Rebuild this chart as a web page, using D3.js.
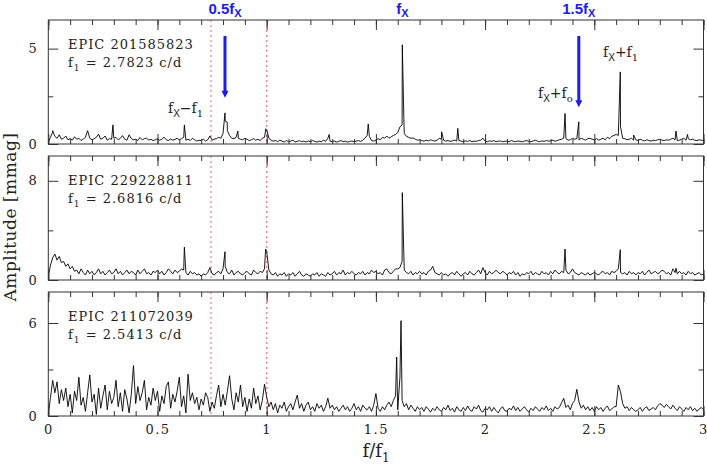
<!DOCTYPE html>
<html>
<head>
<meta charset="utf-8">
<script src="https://cdn.jsdelivr.net/npm/d3@7"></script>
<style>
  body { margin: 0; background: #fff; }
  svg { font-family: "DejaVu Serif", serif; }
</style>
</head>
<body>
<script>
// amplitude spectra, f/f1 from 0 to 3 in steps of 0.01 (mmag)
var fStart = 0, fStep = 0.01;

var amp1 = [
  0.10,0.35,0.62,0.40,0.30,0.48,0.25,0.30,0.42,0.22,
  0.28,0.20,0.38,0.25,0.30,0.18,0.26,0.35,0.70,0.30,
  0.22,0.28,0.35,0.52,0.25,0.30,0.42,0.20,0.28,0.25,
  0.30,0.35,0.22,0.30,0.44,0.25,0.20,0.48,0.28,0.22,
  0.25,0.18,0.34,0.22,0.28,0.30,0.20,0.25,0.18,0.22,
  0.28,0.20,0.25,0.36,0.22,0.18,0.26,0.20,0.24,0.30,
  0.22,0.28,0.35,0.20,0.25,0.18,0.30,0.22,0.15,0.20,
  0.18,0.25,0.15,0.22,0.42,0.20,0.25,0.28,0.35,0.30,
  0.55,1.20,0.70,0.45,0.30,0.28,0.35,0.30,0.25,0.22,
  0.30,0.25,0.18,0.22,0.28,0.20,0.25,0.18,0.30,0.35,
  0.75,0.30,0.20,0.15,0.18,0.12,0.20,0.15,0.10,0.18,
  0.12,0.15,0.20,0.10,0.14,0.18,0.12,0.15,0.10,0.16,
  0.12,0.18,0.14,0.10,0.15,0.12,0.20,0.14,0.30,0.15,
  0.12,0.16,0.10,0.14,0.18,0.12,0.15,0.10,0.13,0.16,
  0.12,0.15,0.18,0.14,0.20,0.30,0.45,0.40,0.18,0.15,
  0.20,0.28,0.22,0.35,0.30,0.42,0.30,0.38,0.45,0.50,
  0.60,0.90,1.00,0.55,0.40,0.35,0.30,0.32,0.25,0.20,
  0.22,0.18,0.15,0.20,0.16,0.22,0.18,0.15,0.20,0.30,
  0.25,0.20,0.15,0.18,0.14,0.16,0.20,0.15,0.18,0.15,
  0.12,0.16,0.14,0.18,0.12,0.15,0.14,0.18,0.20,0.30,
  0.15,0.12,0.16,0.14,0.18,0.12,0.15,0.16,0.12,0.14,
  0.15,0.12,0.18,0.14,0.12,0.16,0.14,0.12,0.15,0.18,
  0.14,0.12,0.16,0.20,0.15,0.12,0.16,0.14,0.18,0.15,
  0.16,0.20,0.14,0.18,0.22,0.25,0.30,0.28,0.20,0.22,
  0.30,0.25,0.28,0.22,0.30,0.25,0.20,0.28,0.30,0.25,
  0.22,0.28,0.20,0.25,0.30,0.22,0.35,0.28,0.40,0.45,
  0.50,0.45,0.90,0.30,0.28,0.22,0.25,0.30,0.20,0.22,
  0.18,0.25,0.20,0.16,0.22,0.18,0.15,0.20,0.18,0.22,
  0.25,0.20,0.18,0.22,0.20,0.25,0.30,0.22,0.18,0.20,
  0.25,0.30,0.20,0.28,0.22,0.25,0.20,0.18,0.22,0.20,
  0.18
];
// narrow peaks between grid points [f/f1, amplitude]
var peaks1 = [[0.020,0.70],[0.296,1.00],[0.623,1.00],[0.809,1.63],[0.819,1.15],
  [0.868,0.68],[0.996,0.80],[1.286,0.50],[1.465,1.05],[1.621,5.20],[1.628,1.34],
  [1.801,0.64],[1.875,0.82],[2.366,1.60],[2.429,1.16],[2.619,3.78],[2.680,0.47],
  [2.874,0.68],[2.927,0.50]];

var amp2 = [
  0.30,1.20,1.80,2.10,1.60,1.90,1.40,1.50,1.10,1.30,
  0.90,1.10,0.70,0.80,0.50,0.90,0.60,0.40,0.80,0.50,
  0.70,0.40,0.60,0.90,0.50,0.70,0.40,0.60,0.80,0.50,
  0.60,0.90,0.50,0.70,0.40,0.60,0.80,0.50,0.70,0.60,
  0.40,0.80,0.50,0.70,0.90,0.50,0.60,0.40,0.70,0.60,
  0.80,0.50,0.70,0.40,0.60,0.90,0.70,0.50,0.80,0.60,
  0.70,0.90,0.80,0.60,0.40,0.70,0.50,0.60,0.40,0.50,
  0.30,0.50,0.40,0.60,1.00,0.50,0.40,0.60,0.70,0.50,
  0.90,1.10,0.60,0.50,0.80,0.40,0.60,0.70,0.50,0.40,
  0.60,0.70,0.50,0.40,0.80,0.60,0.50,0.70,0.60,0.90,
  2.30,0.80,0.50,0.40,0.60,0.30,0.50,0.40,0.60,0.30,
  0.50,0.40,0.60,0.30,0.50,0.70,0.40,0.30,0.50,0.40,
  0.30,0.50,0.40,0.60,0.30,0.50,0.40,0.30,0.60,0.40,
  0.50,0.70,0.40,0.60,0.50,0.80,0.40,0.60,0.50,0.70,
  0.50,0.40,0.60,0.50,0.70,0.40,0.60,0.50,0.80,0.60,
  0.70,0.50,0.60,0.40,0.80,0.90,0.60,0.50,0.70,0.90,
  0.90,1.00,1.50,0.80,0.60,0.50,0.70,0.40,0.60,0.50,
  0.70,0.50,0.60,0.40,0.70,0.80,1.10,0.60,0.50,0.40,
  0.60,0.40,0.50,0.30,0.50,0.60,0.40,0.70,0.50,0.30,
  0.50,0.60,0.40,0.70,0.50,0.40,0.60,0.80,0.50,1.00,
  0.60,0.40,0.70,0.50,0.60,0.80,0.60,0.50,0.70,0.60,
  0.40,0.60,0.50,0.70,0.40,0.60,0.30,0.50,0.40,0.60,
  0.50,0.70,0.40,0.60,0.50,0.40,0.70,0.50,0.60,0.40,
  0.70,0.50,0.80,0.60,0.50,0.70,0.60,0.80,0.50,0.60,
  0.90,0.60,0.50,0.40,0.60,0.50,0.40,0.60,0.40,0.50,
  0.60,0.50,0.40,0.60,0.70,0.50,0.60,0.40,0.70,0.60,
  0.70,0.90,0.60,0.50,0.60,0.40,0.70,0.50,0.60,0.40,
  0.60,0.50,0.70,0.40,0.60,0.80,0.50,0.60,0.70,0.50,
  0.60,0.80,0.70,0.50,0.60,0.40,0.90,0.60,0.50,0.70,
  0.50,0.60,0.40,0.70,0.50,0.60,0.40,0.50,0.60,0.40,
  0.50
];
var peaks2 = [[0.623,2.65],[0.809,2.28],[0.995,2.50],[1.621,7.05],[1.628,1.95],
  [2.366,2.50],[2.619,2.44],[2.874,0.95]];

var amp3 = [
  0.10,1.20,2.30,1.50,2.20,0.80,1.70,1.00,1.80,0.60,
  1.40,0.20,1.60,1.00,2.50,0.70,1.20,0.30,1.50,2.65,
  0.90,1.40,0.10,1.80,0.50,1.30,2.00,0.40,1.60,0.80,
  1.20,2.30,0.60,1.50,0.30,1.70,1.10,0.20,1.40,3.25,
  0.80,1.90,1.00,1.50,2.30,0.40,1.20,0.70,1.80,1.00,
  1.60,0.30,1.30,0.80,1.90,2.20,0.50,1.40,0.90,1.60,
  2.50,0.60,1.30,0.20,2.70,1.00,1.50,0.80,1.20,0.40,
  1.10,0.70,1.50,1.20,0.30,0.90,0.50,1.30,2.00,0.60,
  1.40,0.70,1.60,2.60,1.10,0.40,1.50,0.90,2.00,0.60,
  1.20,0.30,1.10,0.50,1.80,0.80,1.30,0.40,1.00,2.05,
  1.20,0.60,0.90,0.40,0.80,0.20,0.70,0.50,0.90,0.30,
  0.60,0.80,0.40,0.90,1.35,0.50,0.80,0.30,0.70,0.90,
  0.40,0.60,0.30,0.80,0.50,0.70,0.30,0.60,1.15,0.50,
  0.70,0.40,0.60,0.30,0.50,0.70,0.40,0.60,0.30,0.50,
  0.80,0.40,0.60,0.30,0.70,0.50,0.40,0.60,0.30,0.70,
  1.45,0.50,0.30,0.60,0.40,0.70,0.90,0.60,1.00,1.30,
  0.40,2.50,1.00,0.60,0.80,0.40,0.70,0.50,0.30,0.60,
  0.40,0.55,0.30,0.60,0.45,0.25,0.50,0.35,0.60,0.40,
  0.30,0.55,0.40,0.70,0.35,0.50,0.25,0.60,0.40,0.30,
  0.55,0.35,0.65,0.40,0.30,0.60,0.45,0.70,0.35,0.25,
  0.50,0.40,0.60,0.30,0.55,0.35,0.20,0.45,0.60,0.35,
  0.30,0.50,0.40,0.65,0.35,0.55,0.30,0.45,0.60,0.40,
  0.25,0.50,0.35,0.60,0.45,0.30,0.55,0.40,0.65,0.35,
  0.50,0.30,0.60,0.45,0.55,0.85,1.14,0.55,0.70,0.40,
  0.80,1.00,1.72,0.90,0.50,0.70,0.40,0.60,0.35,0.55,
  0.30,0.60,0.40,0.55,0.30,0.50,0.65,0.35,0.45,0.60,
  0.60,2.00,1.56,0.80,0.50,0.60,0.35,0.55,0.40,0.30,
  0.40,0.55,0.30,0.50,0.60,0.35,0.45,0.55,0.40,0.65,
  0.80,0.70,0.55,0.75,0.60,0.45,0.70,0.50,0.35,0.60,
  0.45,0.30,0.55,0.40,0.60,0.35,0.50,0.30,0.45,0.55,
  0.40
];
var peaks3 = [[1.595,3.80],[1.615,6.15]];

var starNames = ['EPIC 201585823', 'EPIC 229228811', 'EPIC 211072039'];
var f1Values = ['2.7823', '2.6816', '2.5413'];
var yMax = [6.5, 10, 8];
var yMajor = [5, 8, 6];
var xMajor = [0, 0.5, 1, 1.5, 2, 2.5, 3];
var xLabels = ['0', '0.5', '1', '1.5', '2', '2.5', '3'];
var redLines = [0.745, 1.0];
// blue markers in the top panel: f/f1, label
var blueF = [0.809, 1.621, 2.429];
var blueText = ['0.5f', 'f', '1.5f'];
var arrowF = [0.809, 2.429];
var arrowTip = [2.43, 1.92];   // amplitude where the arrow ends

var W = 707, H = 467;
var panelTop = [20, 156, 292], panelH = 124;
var sans = '"Liberation Sans", Arial, sans-serif';

var svg = d3.select('body').append('svg').attr('width', W).attr('height', H);
var x = d3.scaleLinear().domain([0, 3]).range([48.3, 703.5]);
var xMinor = d3.range(0, 30.5, 1).map(function (d) { return d / 10; });

var ampAll = [amp1, amp2, amp3], peakAll = [peaks1, peaks2, peaks3];

function series(amp, pk) {
  var pts = amp.map(function (a, i) { return [fStart + i * fStep, a]; });
  return pts.concat(pk).sort(function (a, b) { return a[0] - b[0]; });
}

function noDomain(g) { g.select('.domain').remove(); }

var yScales = [];
ampAll.forEach(function (amp, i) {
  var g = svg.append('g').attr('transform', 'translate(0,' + panelTop[i] + ')');
  var y = d3.scaleLinear().domain([0, yMax[i]]).range([panelH, 0]);
  yScales.push(y);

  // dotted red markers
  g.selectAll('line.red').data(redLines).enter().append('line')
    .attr('class', 'red')
    .attr('x1', function (d) { return x(d); }).attr('x2', function (d) { return x(d); })
    .attr('y1', 0).attr('y2', panelH)
    .attr('stroke', '#ff5a5a').attr('stroke-width', 1).attr('stroke-dasharray', '2,3');

  var line = d3.line().x(function (d) { return x(d[0]); }).y(function (d) { return y(d[1]); });
  g.append('path').datum(series(amp, peakAll[i]))
    .attr('d', line).attr('fill', 'none')
    .attr('stroke', '#000').attr('stroke-width', 0.9).attr('stroke-linejoin', 'round');

  // ticks on all four sides, pointing inward
  g.append('g').call(d3.axisTop(x).tickValues(xMajor).tickSize(-10).tickFormat('')).call(noDomain);
  g.append('g').call(d3.axisTop(x).tickValues(xMinor).tickSize(-5).tickFormat('')).call(noDomain);
  var bot = g.append('g').attr('transform', 'translate(0,' + panelH + ')');
  bot.call(d3.axisBottom(x).tickValues(xMajor).tickSize(-10).tickPadding(9)
      .tickFormat(function (d, k) { return i === 2 ? xLabels[k] : ''; })).call(noDomain);
  g.append('g').attr('transform', 'translate(0,' + panelH + ')')
    .call(d3.axisBottom(x).tickValues(xMinor).tickSize(-5).tickFormat('')).call(noDomain);

  g.append('g').attr('transform', 'translate(' + x(0) + ',0)')
    .call(d3.axisLeft(y).tickValues([0, yMajor[i]]).tickSize(-10).tickPadding(10)
      .tickFormat(d3.format('d'))).call(noDomain);
  g.append('g').attr('transform', 'translate(' + x(0) + ',0)')
    .call(d3.axisLeft(y).tickValues([yMajor[i] / 2]).tickSize(-5).tickFormat('')).call(noDomain);
  g.append('g').attr('transform', 'translate(' + x(3) + ',0)')
    .call(d3.axisRight(y).tickValues([0, yMajor[i]]).tickSize(-10).tickFormat('')).call(noDomain);
  g.append('g').attr('transform', 'translate(' + x(3) + ',0)')
    .call(d3.axisRight(y).tickValues([yMajor[i] / 2]).tickSize(-5).tickFormat('')).call(noDomain);

  g.selectAll('.tick line').attr('stroke', '#333');
  g.selectAll('.tick text').attr('font-family', '"DejaVu Serif", serif')
    .attr('font-size', 13).attr('letter-spacing', 1.5).attr('fill', '#222');

  g.append('rect').attr('x', x(0)).attr('y', 0)
    .attr('width', x(3) - x(0)).attr('height', panelH)
    .attr('fill', 'none').attr('stroke', '#333').attr('stroke-width', 1);

  // star name and f1
  g.append('text').attr('x', 68).attr('y', 28.5)
    .attr('font-size', 13).attr('letter-spacing', 1).attr('fill', '#222')
    .text(starNames[i]);
  var t = g.append('text').attr('x', 68).attr('y', 47)
    .attr('font-size', 13).attr('letter-spacing', 1).attr('fill', '#222');
  t.append('tspan').text('f');
  t.append('tspan').attr('dy', 4).attr('font-size', 9).text('1');
  t.append('tspan').attr('dy', -4).text(' = ' + f1Values[i] + ' c/d');
});

// combination labels in top panel
var y1 = yScales[0];
var combo = [
  { f: 0.548, a: 1.62, op: '\u2212', s: '1' },
  { f: 2.242, a: 2.41, op: '+', s: 'o' },
  { f: 2.540, a: 4.56, op: '+', s: '1' }
];
combo.forEach(function (c) {
  var t = svg.append('text').attr('x', x(c.f)).attr('y', panelTop[0] + y1(c.a))
    .attr('font-size', 14).attr('fill', '#222');
  t.append('tspan').text('f');
  t.append('tspan').attr('dy', 4).attr('font-size', 10).style('font-family', sans).text('X');
  t.append('tspan').attr('dy', -4).text(c.op + 'f');
  t.append('tspan').attr('dy', 4).attr('font-size', 10).text(c.s);
});

// blue arrows
arrowF.forEach(function (f, k) {
  var xa = x(f), yt = panelTop[0] + y1(arrowTip[k]);
  svg.append('line').attr('x1', xa).attr('x2', xa)
    .attr('y1', panelTop[0] + y1(5.66)).attr('y2', yt - 5)
    .attr('stroke', '#1a1aff').attr('stroke-width', 3);
  svg.append('path')
    .attr('d', 'M' + (xa - 3.5) + ',' + (yt - 7) + 'L' + (xa + 3.5) + ',' + (yt - 7) + 'L' + xa + ',' + yt + 'Z')
    .attr('fill', '#1a1aff');
});

// blue labels above the top panel
blueF.forEach(function (f, k) {
  var t = svg.append('text').attr('x', x(f)).attr('y', 13.5)
    .attr('text-anchor', 'middle').attr('fill', '#1a1aff')
    .style('font-family', sans)
    .attr('font-size', 15).attr('font-weight', 'bold');
  t.append('tspan').text(blueText[k]);
  t.append('tspan').attr('dy', 3.5).attr('font-size', 11).text('X');
});

// axis titles
svg.append('text')
  .attr('transform', 'translate(16,217) rotate(-90)')
  .attr('text-anchor', 'middle').attr('font-size', 17).attr('letter-spacing', 0.5).attr('fill', '#222')
  .text('Amplitude [mmag]');
var xt = svg.append('text').attr('x', 376).attr('y', 457)
  .attr('text-anchor', 'middle').attr('font-size', 18).attr('fill', '#222');
xt.append('tspan').text('f/f');
xt.append('tspan').attr('dy', 5).attr('font-size', 12).text('1');
</script>
</body>
</html>
